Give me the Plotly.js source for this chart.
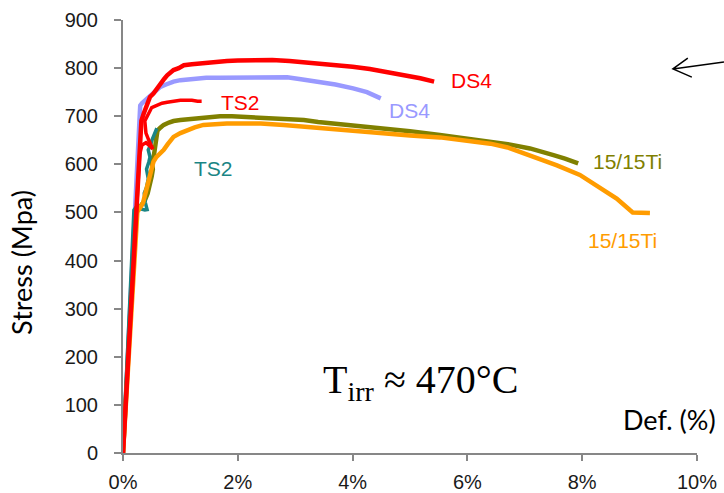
<!DOCTYPE html>
<html>
<head>
<meta charset="utf-8">
<script src="https://cdn.plot.ly/plotly-3.0.1.min.js"></script>
<style>
  html, body { margin: 0; padding: 0; background: #ffffff; }
  #chart { width: 724px; height: 493px; }
</style>
</head>
<body>
<div id="chart"></div>
<script>
// Tensile curves: strain (%) vs stress (MPa), irradiated at about 470 °C

// DS4 (red)
const ds4RedStrain = [0, 0.23, 0.29, 0.32, 0.36, 0.40, 0.42, 0.47, 0.53, 0.60, 0.65, 0.72, 0.77, 0.83, 0.88, 0.97, 1.06, 1.20, 1.40, 1.60, 1.81, 2.0, 2.3, 2.6, 2.9, 3.2, 3.5, 3.8, 4.0, 4.3, 4.6, 4.9, 5.18, 5.42];
const ds4RedStress = [0, 505, 630, 690, 705, 720, 727, 740, 747, 760, 768, 778, 785, 790, 796, 800, 806, 808, 811, 813, 815, 816, 817, 817, 815, 812, 809, 805, 803, 798, 792, 786, 779, 772];

// TS2 (red)
const ts2RedStrain = [0, 0.23, 0.29, 0.33, 0.40, 0.47, 0.52, 0.45, 0.40, 0.38, 0.42, 0.46, 0.50, 0.58, 0.68, 0.77, 0.88, 1.0, 1.1, 1.2, 1.3, 1.37];
const ts2RedStress = [0, 505, 620, 640, 645, 638, 632, 650, 665, 690, 700, 712, 718, 722, 727, 729, 731, 733, 733, 733, 731, 731];

// DS4 (lavender)
const ds4BlueStrain = [0, 0.21, 0.30, 0.33, 0.36, 0.39, 0.43, 0.48, 0.55, 0.65, 0.75, 0.88, 1.0, 1.23, 1.45, 1.69, 2.0, 2.3, 2.6, 2.86, 3.1, 3.44, 3.7, 4.01, 4.25, 4.49];
const ds4BlueStress = [0, 505, 722, 727, 730, 734, 738, 744, 752, 761, 766, 772, 775, 778, 780, 780, 780, 781, 781, 781, 777, 772, 766, 758, 750, 737];

// TS2 (teal)
const ts2TealStrain = [0, 0.19, 0.22, 0.30, 0.38, 0.42, 0.39, 0.37, 0.41, 0.44, 0.41, 0.45, 0.47, 0.44, 0.48, 0.51, 0.55, 0.59];
const ts2TealStress = [0, 505, 510, 508, 505, 506, 520, 540, 552, 570, 590, 605, 615, 630, 640, 652, 664, 675];

// 15/15Ti (olive)
const ti1515OliveStrain = [0, 0.22, 0.30, 0.38, 0.43, 0.47, 0.50, 0.52, 0.50, 0.54, 0.56, 0.58, 0.60, 0.65, 0.71, 0.80, 0.88, 1.0, 1.23, 1.45, 1.69, 1.9, 2.2, 2.51, 2.8, 3.15, 3.4, 3.67, 3.9, 4.13, 4.4, 4.6, 5.0, 5.52, 5.99, 6.4, 6.75, 7.09, 7.3, 7.5, 7.7, 7.93];
const ti1515OliveStress = [0, 505, 512, 525, 540, 556, 575, 590, 605, 620, 640, 655, 670, 676, 682, 687, 690, 692, 695, 698, 700, 700, 698, 695, 693, 692, 688, 685, 681, 679, 677, 675, 669, 661, 654, 648, 641, 633, 627, 619, 612, 602];

// 15/15Ti (orange)
const ti1515OrangeStrain = [0, 0.25, 0.30, 0.35, 0.38, 0.42, 0.45, 0.48, 0.53, 0.58, 0.64, 0.71, 0.78, 0.88, 1.0, 1.11, 1.25, 1.40, 1.6, 1.81, 2.04, 2.4, 2.8, 3.09, 3.4, 3.8, 4.13, 4.6, 5.0, 5.52, 5.99, 6.40, 6.7, 6.98, 7.3, 7.56, 7.96, 8.31, 8.60, 8.83, 8.88, 9.18];
const ti1515OrangeStress = [0, 501, 510, 520, 535, 555, 570, 585, 605, 615, 622, 630, 642, 657, 665, 671, 677, 682, 684, 685, 685, 685, 682, 679, 676, 672, 668, 664, 660, 656, 650, 643, 635, 623, 610, 598, 578, 550, 529, 505, 500, 499];

// Axis ticks
const strainTicks = [0, 2, 4, 6, 8, 10];
const strainTickLabels = ['0%', '2%', '4%', '6%', '8%', '10%'];
const stressTicks = [0, 100, 200, 300, 400, 500, 600, 700, 800, 900];

const RED = '#ff0000', LAVENDER = '#9999ff', TEAL = '#1a8585', OLIVE = '#808000', ORANGE = '#ff9c00';

function curve(x, y, color, width, name) {
  return { x: x, y: y, type: 'scatter', mode: 'lines', name: name,
           line: { color: color, width: width }, hoverinfo: 'skip' };
}

// drawing order: later traces sit on top
const traces = [
  curve(ds4BlueStrain, ds4BlueStress, LAVENDER, 4.5, 'DS4'),
  curve(ti1515OliveStrain, ti1515OliveStress, OLIVE, 4.5, '15/15Ti'),
  curve(ts2TealStrain, ts2TealStress, TEAL, 3.5, 'TS2'),
  curve(ti1515OrangeStrain, ti1515OrangeStress, ORANGE, 4.5, '15/15Ti'),
  curve(ts2RedStrain, ts2RedStress, RED, 3.5, 'TS2'),
  curve(ds4RedStrain, ds4RedStress, RED, 4.5, 'DS4')
];

const AXIS_GREY = '#878787';
const tickFont = { family: 'Liberation Sans, Arial, sans-serif', size: 20, color: '#1a1a1a' };
const labelFont = (c) => ({ family: 'Liberation Sans, Arial, sans-serif', size: 21, color: c });
const titleFont = { family: 'Lato, Carlito, sans-serif', size: 27, color: '#000000' };

function label(x, y, text, font) {
  return { x: x, y: y, xref: 'x', yref: 'y', text: text, showarrow: false,
           xanchor: 'center', yanchor: 'middle', font: font };
}

const layout = {
  width: 724, height: 493,
  margin: { l: 123, r: 27, t: 20, b: 40, pad: 0 },
  paper_bgcolor: '#ffffff', plot_bgcolor: '#ffffff',
  showlegend: false,
  xaxis: {
    range: [0, 10], tickmode: 'array', tickvals: strainTicks, ticktext: strainTickLabels,
    showgrid: false, zeroline: false, showline: true,
    linecolor: AXIS_GREY, linewidth: 2,
    ticks: 'outside', ticklen: 6, tickwidth: 2, tickcolor: AXIS_GREY,
    ticklabelstandoff: 4,
    tickfont: tickFont, fixedrange: true
  },
  yaxis: {
    range: [0, 900], tickvals: stressTicks,
    showgrid: false, zeroline: false, showline: true,
    linecolor: AXIS_GREY, linewidth: 2,
    ticks: 'outside', ticklen: 7, tickwidth: 2, tickcolor: AXIS_GREY,
    ticklabelstandoff: 12,
    tickfont: tickFont, fixedrange: true
  },
  annotations: [
    label(6.065, 775, 'DS4', labelFont(RED)),
    label(4.985, 711, 'DS4', labelFont(LAVENDER)),
    label(2.05, 729, 'TS2', labelFont(RED)),
    label(1.58, 591, 'TS2', labelFont(TEAL)),
    label(8.79, 605, '15/15Ti', labelFont(OLIVE)),
    label(8.71, 442, '15/15Ti', labelFont(ORANGE)),
    label(9.52, 70, 'Def. (%)', titleFont),
    label(5.19, 147, 'T<sub>irr</sub> ≈ 470°C', { family: 'Liberation Serif, Times New Roman, serif', size: 40, color: '#000000' }),
    { xref: 'paper', yref: 'paper', x: -0.177, y: 0.44, text: 'Stress (Mpa)', textangle: -90,
      showarrow: false, xanchor: 'center', yanchor: 'middle', font: titleFont }
  ],
  shapes: [
    // hand-drawn pointer at the top right
    { type: 'path', xref: 'paper', yref: 'paper',
      path: 'M 1.047 0.903 L 0.958 0.887 M 0.984 0.912 L 0.958 0.887 L 0.991 0.868',
      fillcolor: 'rgba(0,0,0,0)',
      line: { color: '#000000', width: 1.5 } }
  ]
};

Plotly.newPlot('chart', traces, layout, { displayModeBar: false, staticPlot: true });
</script>
</body>
</html>
